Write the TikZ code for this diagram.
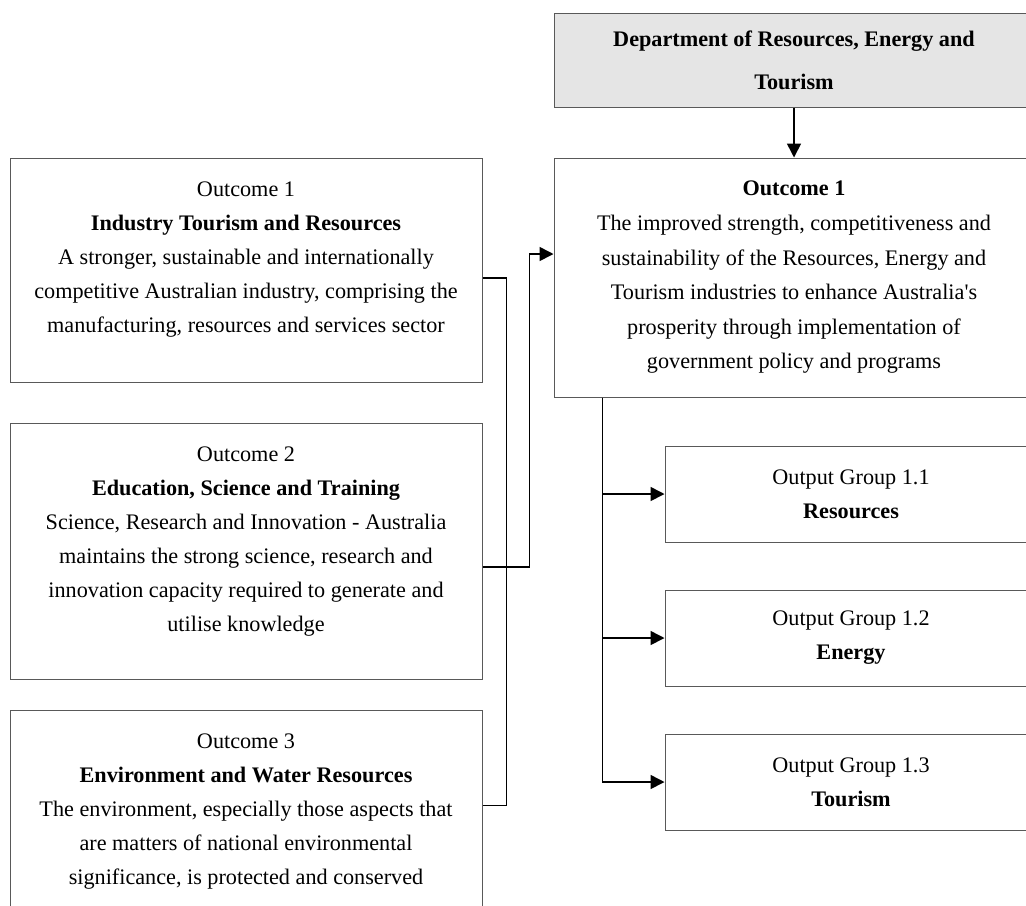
\documentclass[tikz,border=0pt]{standalone}
\usepackage{fontspec}
\setmainfont{Liberation Serif}[Ligatures=TeXOff]
\usetikzlibrary{positioning,arrows.meta}

\begin{document}
\begin{tikzpicture}[x=0.5pt,y=-0.5pt,
	box/.style={draw=black!65, line width=0.5pt, rectangle, inner sep=0pt},
	txt/.style={align=center, inner sep=0pt, font=\fontsize{11.1}{17}\selectfont},
	link/.style={line width=0.8pt},
	arr/.style={link, -{Triangle[length=7pt,width=7pt]}}]
	\clip[use as bounding box] (0,0) rectangle (1026,905);
	% department and its outcome
	\node[box, txt, fill=black!10, minimum width=240pt, minimum height=47pt, font=\fontsize{11.1}{21.5}\selectfont\bfseries] (dept) at (794,60) {Department of Resources, Energy and\\Tourism};
	\node[box, txt, minimum width=240pt, minimum height=119.5pt, font=\fontsize{11.1}{17.3}\selectfont] (res) at (794,277.5) {\textbf{Outcome 1}\\The improved strength, competitiveness and\\sustainability of the Resources, Energy and\\Tourism industries to enhance Australia's\\prosperity through implementation of\\government policy and programs};
	% output groups
	\node[box, txt, minimum width=186pt, minimum height=48pt] (og1) at (851,494) {Output Group 1.1\\\textbf{Resources}};
	\node[box, txt, minimum width=186pt, minimum height=48pt] (og2) at (851,638) {Output Group 1.2\\\textbf{Energy}};
	\node[box, txt, minimum width=186pt, minimum height=48pt] (og3) at (851,782) {Output Group 1.3\\\textbf{Tourism}};
	% old outcomes on the left
	\node[box, minimum width=236pt, minimum height=112pt] (oc1) at (246,270) {};
	\node[txt, below=12pt of oc1.north] (oc1t) {Outcome 1\\\textbf{Industry Tourism and Resources}\\A stronger, sustainable and internationally\\competitive Australian industry, comprising the\\manufacturing, resources and services sector};
	\node[box, minimum width=236pt, minimum height=128pt] (oc2) at (246,551) {};
	\node[txt, below=12pt of oc2.north] (oc2t) {Outcome 2\\\textbf{Education, Science and Training}\\Science, Research and Innovation - Australia\\maintains the strong science, research and\\innovation capacity required to generate and\\utilise knowledge};
	\node[box, minimum width=236pt, minimum height=120pt] (oc3) at (246,830) {};
	\node[txt, below=12pt of oc3.north] (oc3t) {Outcome 3\\\textbf{Environment and Water Resources}\\The environment, especially those aspects that\\are matters of national environmental\\significance, is protected and conserved};
	% connectors
	\draw[arr] (dept) -- (res);
	\draw[link] ([yshift=-4pt]oc1.east) -- ++(12pt,0) |- ([yshift=-48pt]oc3.north east);
	\draw[arr] ([yshift=-8pt]oc2.east) -- ++(23.5pt,0) |- ([yshift=11.75pt]res.west);
	\draw[arr] ([xshift=24.5pt]res.south west) |- (og1.west);
	\draw[arr] ([xshift=24.5pt]res.south west) |- (og2.west);
	\draw[arr] ([xshift=24.5pt]res.south west) |- (og3.west);
\end{tikzpicture}
\end{document}
